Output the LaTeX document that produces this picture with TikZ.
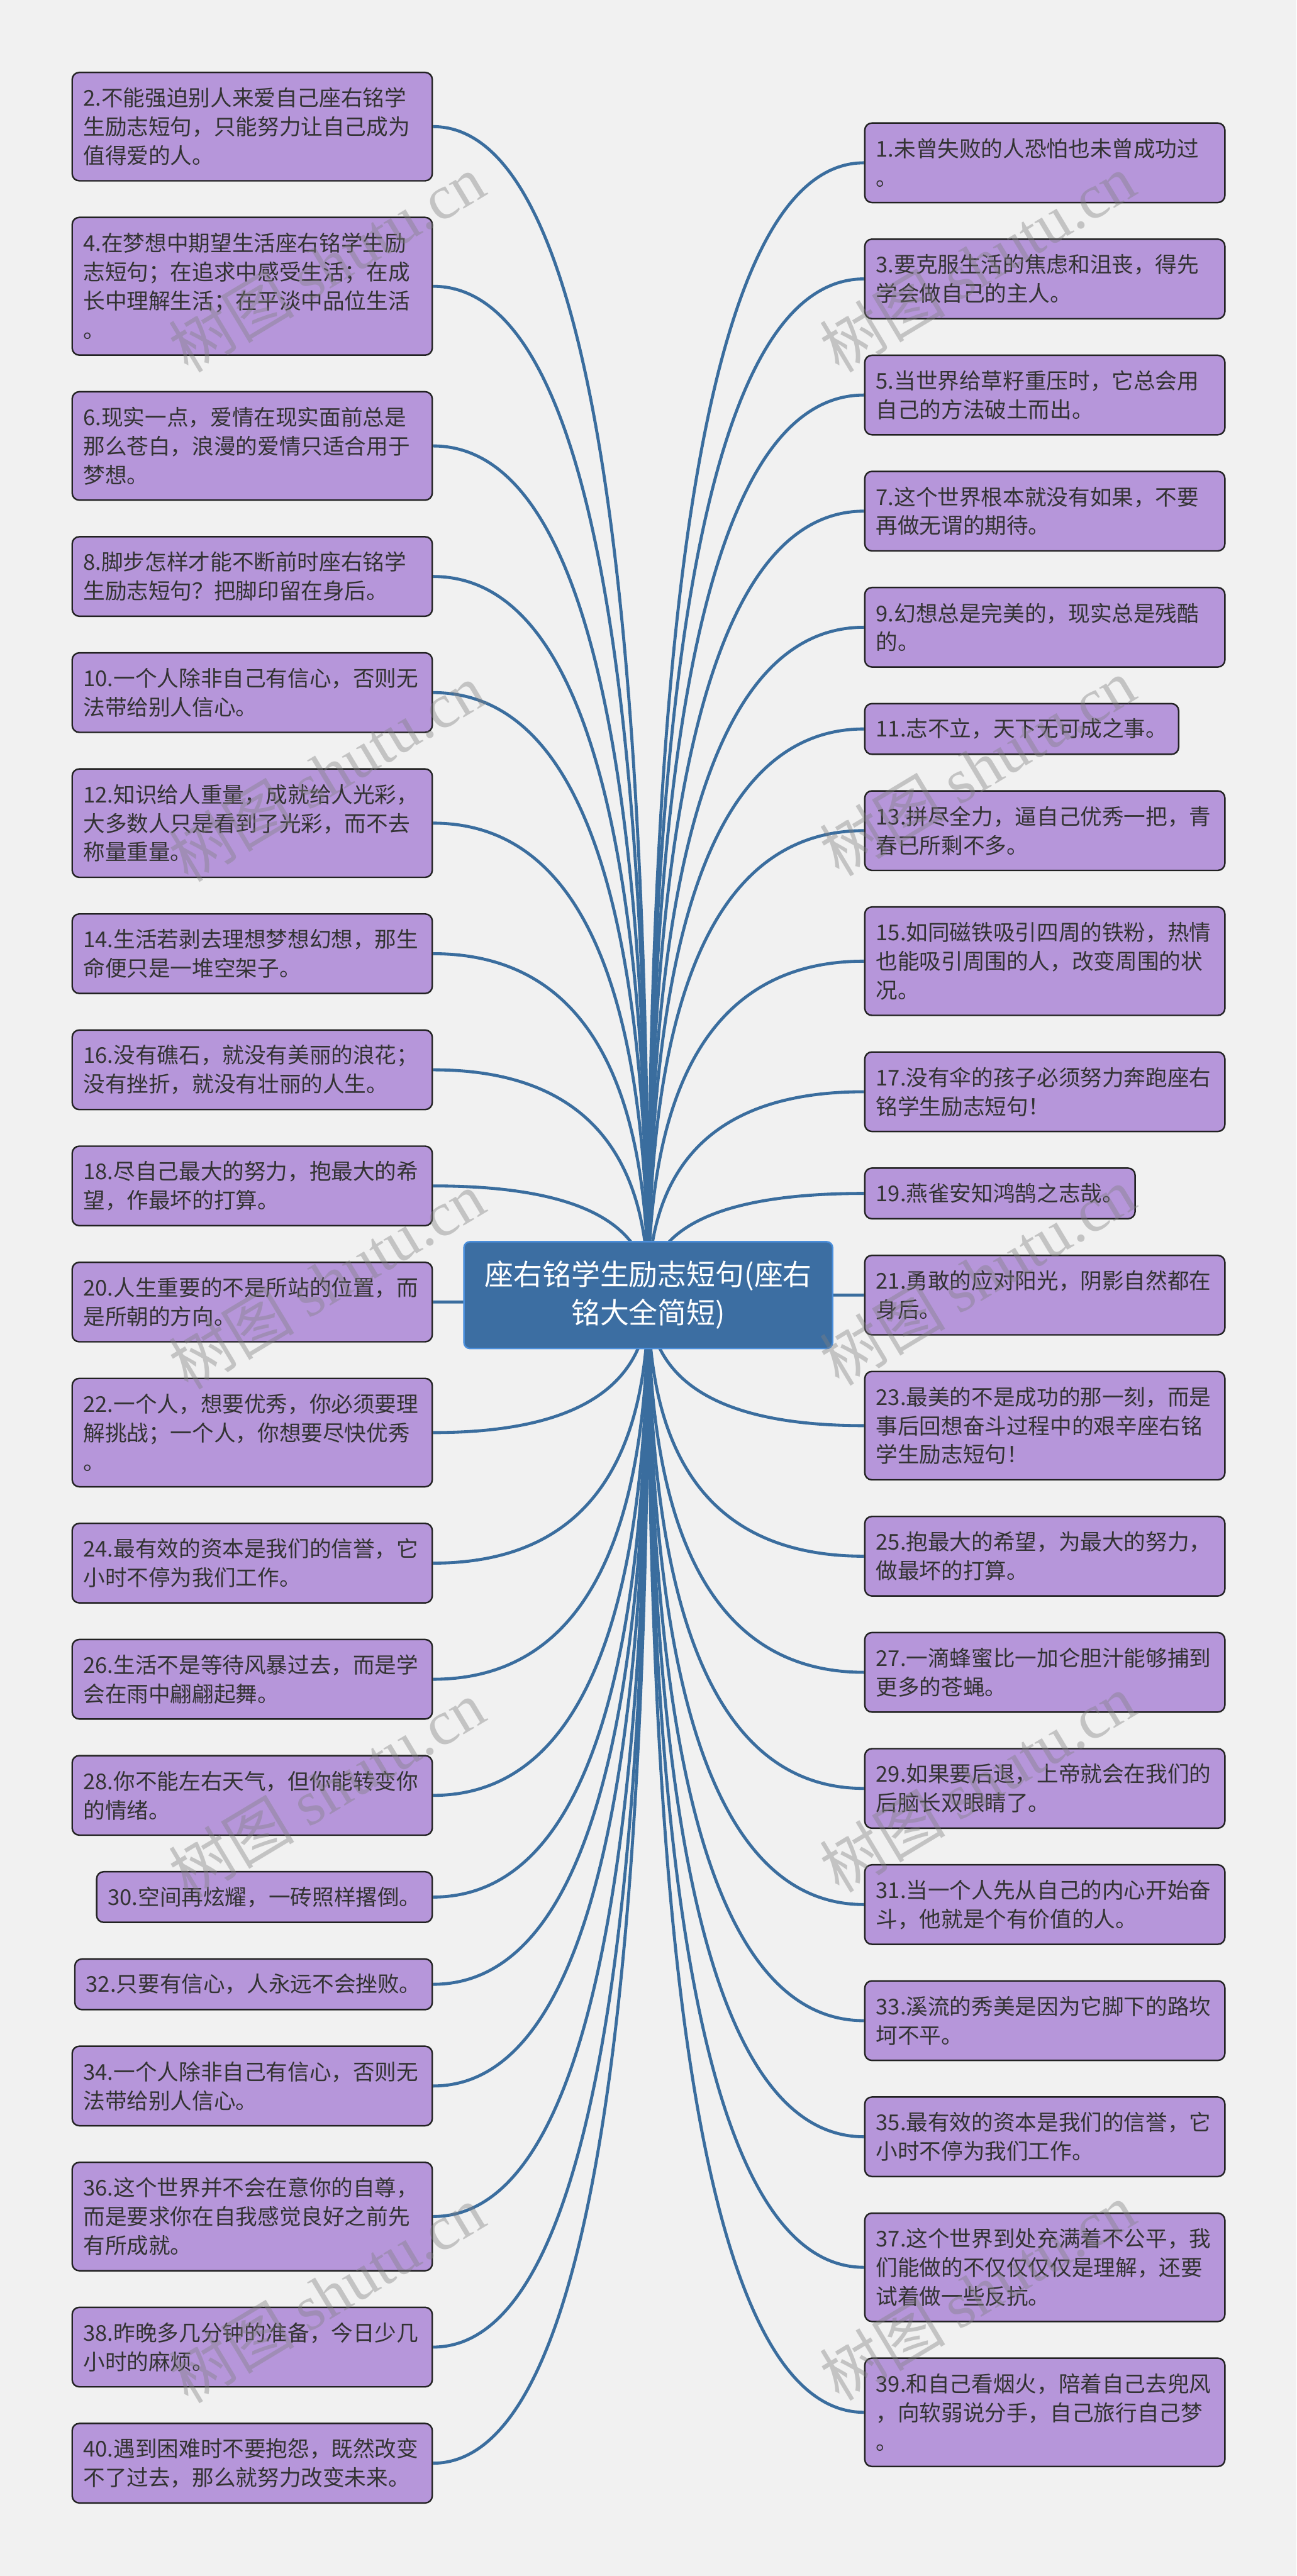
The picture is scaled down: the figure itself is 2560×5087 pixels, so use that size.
\documentclass[tikz,border=0pt]{standalone}
\usepackage{fontspec}
\setmainfont{Noto Sans CJK SC}
\newfontfamily\wmserif{Liberation Serif}
\usetikzlibrary{calc,backgrounds}
\definecolor{bgc}{HTML}{F1F1F1}
\definecolor{leaffill}{HTML}{B696DA}
\definecolor{leafdraw}{HTML}{222222}
\definecolor{leaftext}{HTML}{333333}
\definecolor{rootfill}{HTML}{3C6EA2}
\definecolor{rootdraw}{HTML}{4A8EDB}
\definecolor{linkc}{HTML}{3A6D9E}
\newcommand\mmL[4]{\node[leaf,wide,anchor=east,minimum height=#3pt] (#1) at (855,#2) {#4};}
\newcommand\mmR[4]{\node[leaf,wide,anchor=west,minimum height=#3pt] (#1) at (1706,#2) {#4};}
\newcommand\mmK[1]{\coordinate (q) at (root.center |- #1);
  \draw[conn] (#1) .. controls ($(#1)!0.6667!(q)$) and ($(root.center)!0.6667!(q)$) .. (root.center);}
\tikzset{
  leaf/.style={draw=leafdraw, line width=0.75pt, fill=leaffill, rounded corners=3.5pt,
    text=leaftext, font=\fontsize{10.75}{14.25}\selectfont, align=left,
    inner xsep=5.5pt, inner ysep=0pt},
  wide/.style={text width=166.75pt},
  rootbox/.style={fill=rootfill, draw=rootdraw, line width=0.75pt, rounded corners=3pt,
    text=white, font=\fontsize{14.25}{19}\selectfont, align=center,
    minimum width=182pt, minimum height=52.75pt, inner sep=0pt},
  conn/.style={draw=linkc, line width=1.5pt},
  wm/.style={text=gray, opacity=0.4, rotate=31, font=\fontsize{31}{31}\selectfont, inner sep=0pt}
}
\begin{document}
\begin{tikzpicture}[x=0.25pt,y=-0.25pt]
\useasboundingbox (0,0) rectangle (2560,5087);
\node[rootbox] (root) at (1280,2557.5) {座右铭学生励志短句(座右\\铭大全简短)};
% left column
\mmL{n2}{250}{53.5}{2.不能强迫别人来爱自己座右铭学\\生励志短句，只能努力让自己成为\\值得爱的人。}
\mmL{n4}{565.3}{68}{4.在梦想中期望生活座右铭学生励\\志短句；在追求中感受生活；在成\\长中理解生活；在平淡中品位生活\\。}
\mmL{n6}{880.6}{53.5}{6.现实一点，爱情在现实面前总是\\那么苍白，浪漫的爱情只适合用于\\梦想。}
\mmL{n8}{1138.4}{39.25}{8.脚步怎样才能不断前时座右铭学\\生励志短句？把脚印留在身后。}
\mmL{n10}{1367.7}{39.25}{10.一个人除非自己有信心，否则无\\法带给别人信心。}
\mmL{n12}{1625.5}{53.5}{12.知识给人重量，成就给人光彩，\\大多数人只是看到了光彩，而不去\\称量重量。}
\mmL{n14}{1883.3}{39.25}{14.生活若剥去理想梦想幻想，那生\\命便只是一堆空架子。}
\mmL{n16}{2112.6}{39.25}{16.没有礁石，就没有美丽的浪花；\\没有挫折，就没有壮丽的人生。}
\mmL{n18}{2341.9}{39.25}{18.尽自己最大的努力，抱最大的希\\望，作最坏的打算。}
\mmL{n20}{2571.2}{39.25}{20.人生重要的不是所站的位置，而\\是所朝的方向。}
\mmL{n22}{2829}{53.5}{22.一个人，想要优秀，你必须要理\\解挑战；一个人，你想要尽快优秀\\。}
\mmL{n24}{3086.8}{39.25}{24.最有效的资本是我们的信誉，它\\小时不停为我们工作。}
\mmL{n26}{3316.1}{39.25}{26.生活不是等待风暴过去，而是学\\会在雨中翩翩起舞。}
\mmL{n28}{3545.4}{39.25}{28.你不能左右天气，但你能转变你\\的情绪。}
\node[leaf,anchor=east,minimum height=25pt] (n30) at (855,3746.2) {30.空间再炫耀，一砖照样撂倒。};
\node[leaf,anchor=east,minimum height=25pt] (n32) at (855,3918.5) {32.只要有信心，人永远不会挫败。};
\mmL{n34}{4119.3}{39.25}{34.一个人除非自己有信心，否则无\\法带给别人信心。}
\mmL{n36}{4377.1}{53.5}{36.这个世界并不会在意你的自尊，\\而是要求你在自我感觉良好之前先\\有所成就。}
\mmL{n38}{4634.9}{39.25}{38.昨晚多几分钟的准备，今日少几\\小时的麻烦。}
\mmL{n40}{4864.2}{39.25}{40.遇到困难时不要抱怨，既然改变\\不了过去，那么就努力改变未来。}
% right column
\mmR{n1}{321.5}{39.25}{1.未曾失败的人恐怕也未曾成功过\\。}
\mmR{n3}{550.8}{39.25}{3.要克服生活的焦虑和沮丧，得先\\学会做自己的主人。}
\mmR{n5}{780.1}{39.25}{5.当世界给草籽重压时，它总会用\\自己的方法破土而出。}
\mmR{n7}{1009.4}{39.25}{7.这个世界根本就没有如果，不要\\再做无谓的期待。}
\mmR{n9}{1238.7}{39.25}{9.幻想总是完美的，现实总是残酷\\的。}
\node[leaf,anchor=west,minimum height=25pt] (n11) at (1706,1439.5) {11.志不立，天下无可成之事。};
\mmR{n13}{1640.3}{39.25}{13.拼尽全力，逼自己优秀一把，青\\春已所剩不多。}
\mmR{n15}{1898.1}{53.5}{15.如同磁铁吸引四周的铁粉，热情\\也能吸引周围的人，改变周围的状\\况。}
\mmR{n17}{2155.9}{39.25}{17.没有伞的孩子必须努力奔跑座右\\铭学生励志短句！}
\node[leaf,anchor=west,minimum height=25pt] (n19) at (1706,2356.7) {19.燕雀安知鸿鹄之志哉。};
\mmR{n21}{2557.5}{39.25}{21.勇敢的应对阳光，阴影自然都在\\身后。}
\mmR{n23}{2815.3}{53.5}{23.最美的不是成功的那一刻，而是\\事后回想奋斗过程中的艰辛座右铭\\学生励志短句！}
\mmR{n25}{3073.1}{39.25}{25.抱最大的希望，为最大的努力，\\做最坏的打算。}
\mmR{n27}{3302.4}{39.25}{27.一滴蜂蜜比一加仑胆汁能够捕到\\更多的苍蝇。}
\mmR{n29}{3531.7}{39.25}{29.如果要后退，上帝就会在我们的\\后脑长双眼睛了。}
\mmR{n31}{3761}{39.25}{31.当一个人先从自己的内心开始奋\\斗，他就是个有价值的人。}
\mmR{n33}{3990.3}{39.25}{33.溪流的秀美是因为它脚下的路坎\\坷不平。}
\mmR{n35}{4219.6}{39.25}{35.最有效的资本是我们的信誉，它\\小时不停为我们工作。}
\mmR{n37}{4477.4}{53.5}{37.这个世界到处充满着不公平，我\\们能做的不仅仅仅仅是理解，还要\\试着做一些反抗。}
\mmR{n39}{4763.7}{53.5}{39.和自己看烟火，陪着自己去兜风\\，向软弱说分手，自己旅行自己梦\\。}
% connectors
\begin{pgfonlayer}{background}
\fill[bgc] (0,0) rectangle (2560,5087);
\foreach \k in {2,4,...,40}{\mmK{n\k.east}}
\foreach \k in {1,3,...,39}{\mmK{n\k.west}}
\end{pgfonlayer}
% watermarks
\node[wm] (wm1) at (645,520) {树图 {\wmserif shutu.cn}};
\node[wm] (wm2) at (645,1525) {树图 {\wmserif shutu.cn}};
\node[wm] (wm3) at (645,2528) {树图 {\wmserif shutu.cn}};
\node[wm] (wm4) at (645,3533) {树图 {\wmserif shutu.cn}};
\node[wm] (wm5) at (645,4530) {树图 {\wmserif shutu.cn}};
\node[wm] (wm6) at (1930,519) {树图 {\wmserif shutu.cn}};
\node[wm] (wm7) at (1930,1515) {树图 {\wmserif shutu.cn}};
\node[wm] (wm8) at (1930,2520) {树图 {\wmserif shutu.cn}};
\node[wm] (wm9) at (1930,3521) {树图 {\wmserif shutu.cn}};
\node[wm] (wm10) at (1930,4525) {树图 {\wmserif shutu.cn}};
\end{tikzpicture}
\end{document}
